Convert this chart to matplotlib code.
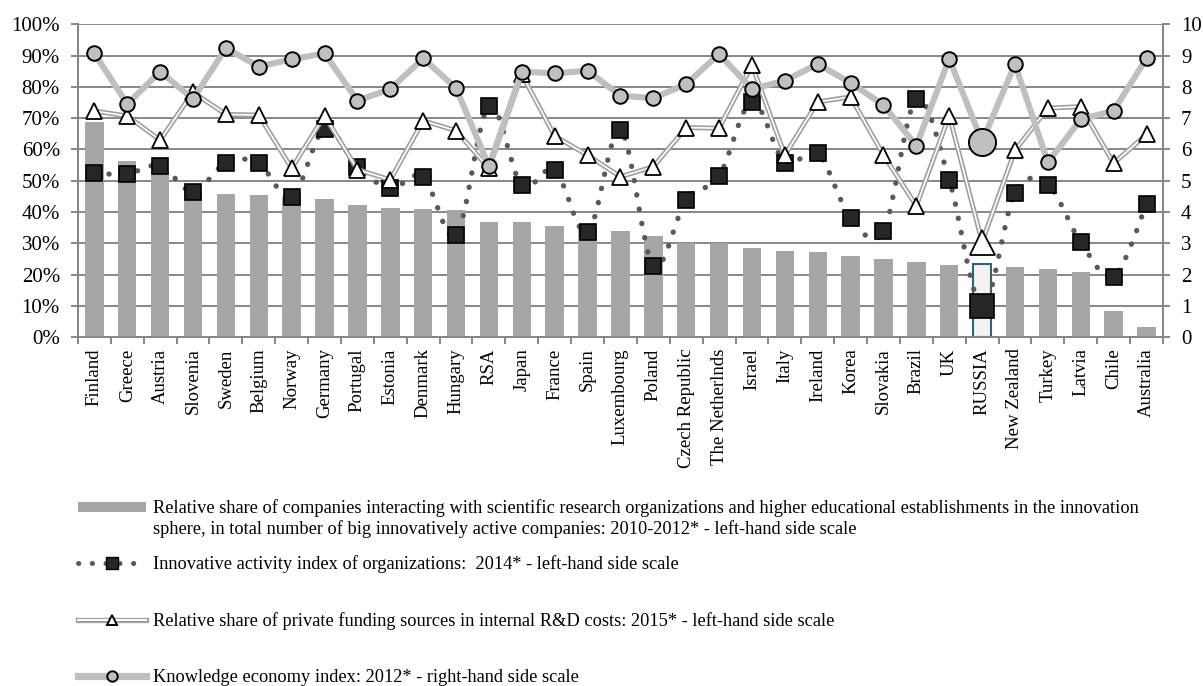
import numpy as np
import matplotlib
matplotlib.use("Agg")
import matplotlib.pyplot as plt
from matplotlib.path import Path
from matplotlib.patches import PathPatch
from matplotlib.lines import Line2D

plt.rcParams['font.family'] = ['Liberation Serif', 'DejaVu Serif']

countries = ["Finland", "Greece", "Austria", "Slovenia", "Sweden", "Belgium", "Norway",
             "Germany", "Portugal", "Estonia", "Denmark", "Hungary", "RSA", "Japan",
             "France", "Spain", "Luxembourg", "Poland", "Czech Republic", "The Netherlnds",
             "Israel", "Italy", "Ireland", "Korea", "Slovakia", "Brazil", "UK", "RUSSIA",
             "New Zealand", "Turkey", "Latvia", "Chile", "Australia"]

# share of companies interacting with research orgs, %
interact_share = [68.8, 56.3, 53.0, 46.5, 45.8, 45.5, 44.8, 44.2, 42.4, 41.2, 41.0,
                  40.7, 36.8, 36.7, 35.7, 35.0, 34.1, 32.5, 30.2, 30.0, 28.5, 27.7,
                  27.4, 26.1, 24.9, 24.1, 23.2, 23.4, 22.5, 21.7, 20.9, 8.3, 3.4]

# innovative activity index, %
innov_index = [52.4, 52.2, 54.8, 46.5, 55.8, 55.6, 44.7, 66.5, 54.5, 47.6, 51.3,
               32.6, 73.9, 48.6, 53.5, 33.5, 66.2, 22.9, 43.9, 51.5, 75.3, 55.8,
               58.8, 38.2, 34.0, 76.1, 50.3, 10.1, 46.2, 48.7, 30.4, 19.4, 42.5]

# private funding share in R&D costs, %
private_funding = [72.3, 70.7, 63.0, 78.3, 71.2, 71.0, 54.0, 70.8, 53.6, 50.3, 69.2,
                   66.0, 54.0, 84.0, 64.3, 58.2, 51.3, 54.5, 67.0, 66.8, 87.0, 58.2,
                   75.2, 76.8, 58.2, 42.0, 70.8, 30.5, 59.7, 73.2, 73.7, 55.6, 64.8]

# knowledge economy index (right scale, 0-10)
kei = [9.07, 7.45, 8.49, 7.61, 9.24, 8.65, 8.88, 9.07, 7.56, 7.93, 8.91, 7.96, 5.47,
       8.49, 8.43, 8.52, 7.72, 7.64, 8.09, 9.05, 7.93, 8.20, 8.73, 8.13, 7.42, 6.12,
       8.90, 6.25, 8.73, 5.59, 6.96, 7.24, 8.91]

label_bar = ("Relative share of companies interacting with scientific research organizations and higher "
             "educational establishments in the innovation")
label_bar2 = "sphere, in total number of big innovatively active companies: 2010-2012* - left-hand side scale"
label_sq = "Innovative activity index of organizations:  2014* - left-hand side scale"
label_tri = "Relative share of private funding sources in internal R&D costs: 2015* - left-hand side scale"
label_circ = "Knowledge economy index: 2012* - right-hand side scale"

n = len(countries)
x = np.arange(n)
ru = countries.index("RUSSIA")

fig = plt.figure(figsize=(12.03, 6.86), dpi=100)
ax = fig.add_axes([0.0648, 0.5083, 0.9019, 0.4563])
ax2 = ax.twinx()

grid_c = "#878787"
ax.set_ylim(0, 100)
ax.set_xlim(-0.5, n - 0.5)
ax.set_yticks(np.arange(0, 101, 10))
ax.set_yticklabels([f"{v}%" for v in range(0, 101, 10)])
for v in range(10, 101, 10):
    ax.axhline(v, color=grid_c, lw=1.4, zorder=0)

bar_colors = ["#A6A6A6"] * n
bar_colors[ru] = "#F2F2F2"
bars = ax.bar(x, interact_share, width=0.56, color=bar_colors, zorder=1)
bars[ru].set_edgecolor("#2F6472")
bars[ru].set_linewidth(1.5)

# smoothed dotted line (catmull-rom style bezier through the points)
pts = np.column_stack([x, innov_index]).astype(float)
verts = [tuple(pts[0])]
codes = [Path.MOVETO]
for i in range(n - 1):
    p0 = pts[max(i - 1, 0)]
    p1 = pts[i]
    p2 = pts[i + 1]
    p3 = pts[min(i + 2, n - 1)]
    c1 = p1 + (p2 - p0) / 6
    c2 = p2 - (p3 - p1) / 6
    verts += [tuple(c1), tuple(c2), tuple(p2)]
    codes += [Path.CURVE4] * 3
dots = PathPatch(Path(verts, codes), fill=False, edgecolor="#595959", lw=3.8,
                 linestyle=(0, (0.05, 2.7)), capstyle="round", zorder=2)
ax.add_patch(dots)
sq_sizes = np.full(n, 11.5)
sq_sizes[ru] = 17
for i in range(n):
    ax.plot(x[i], innov_index[i], "s", ms=sq_sizes[i], mfc="#262626", mec="black",
            mew=1.2, zorder=3)

# double line with triangles
ax.plot(x, private_funding, color="#A0A0A0", lw=3.6, zorder=4, solid_joinstyle="miter")
ax.plot(x, private_funding, color="white", lw=1.2, zorder=4.1, solid_joinstyle="miter")
tri_sizes = np.full(n, 11.5)
tri_sizes[ru] = 18
for i in range(n):
    ax.plot(x[i], private_funding[i], "^", ms=tri_sizes[i], mfc="white", mec="black",
            mew=1.3, zorder=4.2)

# knowledge economy index on right axis
ax2.set_ylim(0, 10)
ax2.set_yticks(range(0, 11))
ax2.plot(x, kei, color="#BFBFBF", lw=4.4, zorder=5)
c_sizes = np.full(n, 10.5)
c_sizes[ru] = 19.5
for i in range(n):
    ax2.plot(x[i], kei[i], "o", ms=c_sizes[i], mfc="#C0C0C0", mec="black", mew=1.4, zorder=6)

for a in (ax, ax2):
    a.spines["top"].set_visible(False)
    for s in ("left", "right", "bottom"):
        a.spines[s].set_color(grid_c)
        a.spines[s].set_linewidth(1.4)
    a.tick_params(axis="y", direction="out", length=5, color=grid_c, width=1.4,
                  labelsize=15, pad=8)

ax.set_xticks(x)
ax.set_xticklabels(countries, rotation=90, fontsize=13.5)
ax.set_xticks(np.arange(-0.5, n, 1), minor=True)
ax.tick_params(axis="x", which="major", length=0, pad=8)
ax.tick_params(axis="x", which="minor", length=5, color=grid_c, width=1.4, direction="out")

# legend entries, one per row
h_bar = Line2D([], [], color="#A6A6A6", lw=7.2, solid_capstyle="butt")
h_sq = (Line2D([], [], color="#595959", lw=3.6, linestyle=(0, (0.05, 2.7)),
               dash_capstyle="round"),
        Line2D([], [], ls="none", marker="s", ms=8.6, mfc="#262626", mec="black"))
h_tri = (Line2D([], [], color="#A0A0A0", lw=3.8), Line2D([], [], color="white", lw=1.4),
         Line2D([], [], ls="none", marker="^", ms=7.5, mfc="white", mec="black", mew=1.4))
h_circ = (Line2D([], [], color="#BFBFBF", lw=5.2),
          Line2D([], [], ls="none", marker="o", ms=7.5, mfc="#C0C0C0", mec="black", mew=1.4))

leg_fs = 13.2
rows = [(h_bar, label_bar, 508), (h_sq, label_sq, 564), (h_tri, label_tri, 621),
        (h_circ, label_circ, 678)]
for h, lab, ypx in rows:
    fig.legend([h], [lab], loc="center left", bbox_to_anchor=(78 / 1203, 1 - ypx / 686),
               frameon=False, fontsize=leg_fs, handlelength=3.7, handletextpad=0.38,
               borderpad=0, borderaxespad=0)
fig.text(153 / 1203, 1 - 529 / 686, label_bar2, fontsize=leg_fs, va="center", ha="left")

fig.savefig("out.png", dpi=100)
